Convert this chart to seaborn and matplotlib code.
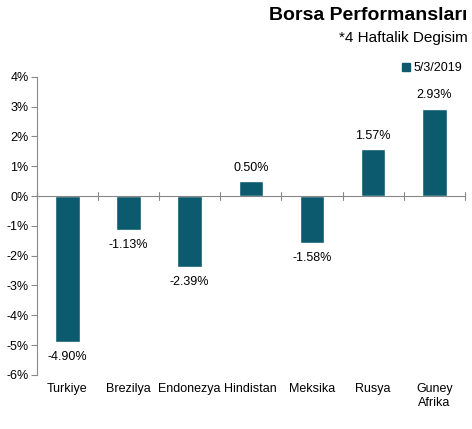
import matplotlib
matplotlib.use("Agg")
import matplotlib.pyplot as plt
import seaborn as sns
import pandas as pd
from matplotlib.patches import Patch

categories = ["Turkiye", "Brezilya", "Endonezya", "Hindistan", "Meksika", "Rusya", "Guney\nAfrika"]
values = [-4.90, -1.13, -2.39, 0.50, -1.58, 1.57, 2.93]
value_labels = ["-4.90%", "-1.13%", "-2.39%", "0.50%", "-1.58%", "1.57%", "2.93%"]
series_name = "5/3/2019"
yticks = [4, 3, 2, 1, 0, -1, -2, -3, -4, -5, -6]

sns.set_theme(style="white")
plt.rcParams['font.family'] = ['Liberation Sans', 'DejaVu Sans']
plt.rcParams['text.color'] = 'black'
plt.rcParams['xtick.color'] = 'black'
plt.rcParams['ytick.color'] = 'black'

color = "#0B5A6E"
df = pd.DataFrame({"cat": categories, "val": values})

fig = plt.figure(figsize=(4.72, 4.29), dpi=100)
ax = fig.add_axes([0.078, 0.126, 0.907, 0.695])
sns.barplot(data=df, x="cat", y="val", color=color, width=0.4, saturation=1, ax=ax)

ax.set_ylim(-6, 4)
ax.set_xlim(-0.5, len(categories) - 0.5)
ax.set_yticks(yticks)
ax.set_yticklabels([f"{t}%" for t in yticks], fontsize=9)
ax.set_xlabel("")
ax.set_ylabel("")
ax.tick_params(axis="x", length=0, pad=6, labelsize=9, labelcolor="black")
ax.tick_params(axis="y", length=4, width=0.8, color="#888888", left=True, pad=2, labelcolor="black")
for s in ["top", "right", "bottom"]:
    ax.spines[s].set_visible(False)
ax.spines["left"].set_color("#888888")
ax.spines["left"].set_linewidth(0.8)
ax.axhline(0, color="#888888", lw=0.8, zorder=1)
for i in range(len(categories) + 1):
    ax.plot([i - 0.5, i - 0.5], [-0.12, 0.12], color="#888888", lw=0.8, clip_on=False)

for i, (v, lab) in enumerate(zip(values, value_labels)):
    if v >= 0:
        ax.text(i, v + 0.25, lab, ha="center", va="bottom", fontsize=9, color="black")
    else:
        ax.text(i, v - 0.3, lab, ha="center", va="top", fontsize=9, color="black")

fig.text(0.99, 0.965, "Borsa Performansları", ha="right", va="center", fontsize=14, fontweight="bold", color="black")
fig.text(0.99, 0.912, "*4 Haftalik Degisim", ha="right", va="center", fontsize=11, color="black")
leg = ax.legend(handles=[Patch(color=color, label=series_name)], loc="lower right",
                bbox_to_anchor=(1.0, 1.0), frameon=False, fontsize=9,
                handlelength=0.6, handleheight=0.6, handletextpad=0.3, borderaxespad=0.1, borderpad=0.1)
for t in leg.get_texts():
    t.set_color("black")

fig.savefig("out.png", dpi=100)
